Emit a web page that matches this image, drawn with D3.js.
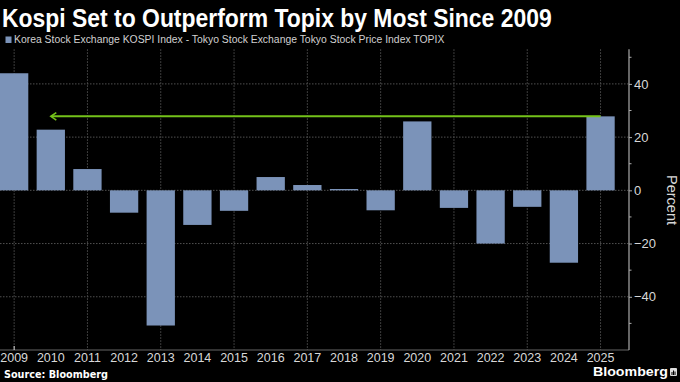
<!DOCTYPE html>
<html>
<head>
<meta charset="utf-8">
<script src="https://cdn.jsdelivr.net/npm/d3@7"></script>
<style>
  html, body { margin: 0; padding: 0; background: #000; }
  svg { display: block; }
</style>
</head>
<body>
<svg id="chart" width="680" height="382"></svg>
<script>
// ---- data ----
const years = ["2009","2010","2011","2012","2013","2014","2015","2016","2017","2018","2019","2020","2021","2022","2023","2024","2025"];
const values = [44.0, 22.8, 8.0, -8.4, -50.8, -13.0, -7.7, 5.0, 2.0, 0.5, -7.5, 25.9, -6.6, -20.0, -6.2, -27.2, 27.8];
const yTickValues = [-40, -20, 0, 20, 40];
const yMinorTicks = [-50, -30, -10, 10, 30, 50];
const gridYears = ["2009","2011","2013","2015","2017","2019","2021","2023","2025"];
const arrowFrom = "2025";
const arrowTo = "2010";
const arrowValue = 27.8;
const titleText = "Kospi Set to Outperform Topix by Most Since 2009";
const legendText = "Korea Stock Exchange KOSPI Index - Tokyo Stock Exchange Tokyo Stock Price Index TOPIX";
const sourceText = "Source: Bloomberg";

// ---- layout ----
const svg = d3.select("#chart");
const W = 680, H = 382;
const plotTop = 49.3, plotBottom = 350, axisX = 629;
const barColor = "#7b93b9";
const green = "#74c21a";

svg.append("rect").attr("width", W).attr("height", H).attr("fill", "#000");

const x = d3.scaleBand().domain(years).range([0, 614.7]).paddingInner(0.228).paddingOuter(0);
const y = d3.scaleLinear().domain([-60, 53]).range([plotBottom, plotTop]);

function fitWidth(sel, target) {
  const node = sel.node();
  const w = node.getComputedTextLength();
  const x0 = +sel.attr("x");
  const s = target / w;
  sel.attr("transform", `translate(${x0},0) scale(${s},1) translate(${-x0},0)`);
}

// gridlines
const grid = svg.append("g");
grid.selectAll("line.h").data(yTickValues).join("line")
  .attr("x1", 0).attr("x2", axisX)
  .attr("y1", d => y(d)).attr("y2", d => y(d))
  .attr("stroke", "#505050").attr("stroke-width", 1).attr("stroke-dasharray", "1.5,1.5");
grid.selectAll("line.v").data(gridYears).join("line")
  .attr("x1", d => x(d) + x.bandwidth() / 2).attr("x2", d => x(d) + x.bandwidth() / 2)
  .attr("y1", plotTop).attr("y2", plotBottom)
  .attr("stroke", "#505050").attr("stroke-width", 1).attr("stroke-dasharray", "1.5,1.5");

// bars
svg.append("g").selectAll("rect").data(years.map((yr, i) => ({yr, v: values[i]}))).join("rect")
  .attr("x", d => x(d.yr))
  .attr("width", x.bandwidth())
  .attr("y", d => y(Math.max(0, d.v)))
  .attr("height", d => Math.abs(y(d.v) - y(0)))
  .attr("fill", barColor);

// arrow
const ay = y(arrowValue);
const ax1 = x(arrowFrom) + x.bandwidth() / 2;
const ax0 = x(arrowTo) + x.bandwidth() / 2;
svg.append("line").attr("x1", ax1).attr("x2", ax0 + 1).attr("y1", ay).attr("y2", ay)
  .attr("stroke", green).attr("stroke-width", 2);
svg.append("path")
  .attr("d", `M${ax0 + 5.5},${ay - 3.8} L${ax0},${ay} L${ax0 + 5.5},${ay + 3.8}`)
  .attr("fill", "none").attr("stroke", green).attr("stroke-width", 1.6);

// bottom axis line
svg.append("line").attr("x1", 0).attr("x2", axisX).attr("y1", plotBottom).attr("y2", plotBottom)
  .attr("stroke", "#666").attr("stroke-width", 1);
svg.append("line").attr("x1", x("2009") + x.bandwidth() / 2).attr("x2", x("2009") + x.bandwidth() / 2)
  .attr("y1", plotBottom - 4).attr("y2", plotBottom)
  .attr("stroke", "#ddd").attr("stroke-width", 1);

// right axis
const yAxis = d3.axisRight(y).tickValues(yTickValues).tickSize(3).tickPadding(2).tickFormat(d3.format("d"));
const gy = svg.append("g").attr("transform", `translate(${axisX},0)`).call(yAxis);
gy.select(".domain").attr("d", `M0,${plotTop}V${plotBottom}`).attr("stroke", "#aaa").attr("stroke-width", 1.2);
gy.selectAll(".tick line").attr("stroke", "#aaa");
gy.selectAll(".tick text").attr("fill", "#d8d8d8").attr("font-family", "Liberation Sans, Arial, sans-serif").attr("font-size", 13);
svg.append("g").selectAll("line").data(yMinorTicks).join("line")
  .attr("x1", axisX).attr("x2", axisX + 2.5).attr("y1", d => y(d)).attr("y2", d => y(d))
  .attr("stroke", "#aaa");

svg.append("text").text("Percent")
  .attr("transform", `translate(667,200) rotate(90)`)
  .attr("text-anchor", "middle")
  .attr("fill", "#d8d8d8").attr("font-family", "Liberation Sans, Arial, sans-serif").attr("font-size", 14.5);

// x labels
svg.append("g").selectAll("text").data(years).join("text")
  .attr("x", d => x(d) + x.bandwidth() / 2).attr("y", 361.5)
  .attr("text-anchor", "middle")
  .attr("fill", "#d8d8d8").attr("font-family", "Liberation Sans, Arial, sans-serif").attr("font-size", 12.5)
  .text(d => d);

// title
const title = svg.append("text").attr("x", 2).attr("y", 27)
  .attr("fill", "#fff").attr("font-family", "Liberation Sans, Arial, sans-serif")
  .attr("font-weight", "bold").attr("font-size", 26).text(titleText);
fitWidth(title, 550);

// legend
svg.append("rect").attr("x", 5.5).attr("y", 36.5).attr("width", 6).attr("height", 6.5).attr("fill", barColor);
const leg = svg.append("text").attr("x", 14).attr("y", 43.3)
  .attr("fill", "#d0d0d0").attr("font-family", "Liberation Sans, Arial, sans-serif")
  .attr("font-size", 11.5).text(legendText);
fitWidth(leg, 431);

// source
const src = svg.append("text").attr("x", 4).attr("y", 378)
  .attr("fill", "#fff").attr("font-family", "DejaVu Sans, sans-serif")
  .attr("font-weight", "bold").attr("font-size", 10).text(sourceText);
fitWidth(src, 104);

// Bloomberg logo
const bl = svg.append("text").attr("x", 593).attr("y", 376.5)
  .attr("fill", "#fff").attr("font-family", "Liberation Sans, Arial, sans-serif")
  .attr("font-weight", "bold").attr("font-size", 12.5).text("Bloomberg");
fitWidth(bl, 75);
const logo = svg.append("g").attr("transform", "translate(670,368)");
logo.append("rect").attr("width", 7).attr("height", 8).attr("rx", 1).attr("fill", "#ddd");
logo.append("rect").attr("x", 1.5).attr("y", 4).attr("width", 1).attr("height", 3).attr("fill", "#000");
logo.append("rect").attr("x", 3).attr("y", 2.5).attr("width", 1).attr("height", 4.5).attr("fill", "#000");
logo.append("rect").attr("x", 4.5).attr("y", 3.5).attr("width", 1).attr("height", 3.5).attr("fill", "#000");
</script>
</body>
</html>
